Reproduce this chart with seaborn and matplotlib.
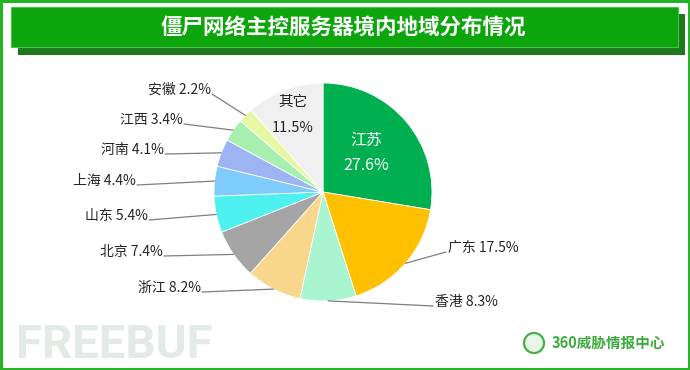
import numpy as np
import matplotlib
matplotlib.use('Agg')
import matplotlib.pyplot as plt
import seaborn as sns
from matplotlib.patches import Rectangle, Circle

# data (clockwise from 12 o'clock)
regions = ['江苏', '广东', '香港', '浙江', '北京', '山东', '上海', '河南', '江西', '安徽', '其它']
shares = [27.6, 17.5, 8.3, 8.2, 7.4, 5.4, 4.4, 4.1, 3.4, 2.2, 11.5]
colors = ['#00B050', '#FFC000', '#A8F5CF', '#F8D68C', '#A5A5A5', '#4DF2F0',
          '#7FCBFB', '#9DB4F3', '#A6EFAE', '#E6F8A2', '#F0F0F0']
title = '僵尸网络主控服务器境内地域分布情况'

sns.set_theme(style='white')
plt.rcParams['font.family'] = ['Noto Sans CJK SC', 'DejaVu Sans']

W, H = 690, 370
fig = plt.figure(figsize=(W / 100, H / 100), dpi=100)

# pie
cx, cy, r = 323, 192, 109
pie_ax = fig.add_axes([(cx - r) / W, (H - cy - r) / H, 2 * r / W, 2 * r / H])
wedges, _ = pie_ax.pie(shares, colors=colors, startangle=90, counterclock=False,
                       wedgeprops=dict(edgecolor='white', linewidth=0.6))
pie_ax.set_xlim(-1, 1)
pie_ax.set_ylim(-1, 1)
pie_ax.axis('off')

# overlay layer in pixel coords (origin top-left), drawn above the pie
bg = fig.add_axes([0, 0, 1, 1])
bg.set_xlim(0, W)
bg.set_ylim(H, 0)
bg.axis('off')
bg.set_zorder(3)
bg.patch.set_alpha(0)

bg.add_patch(Rectangle((1, 1), W - 2, H - 2, fill=False, ec='#22B422', lw=2.2))
bg.add_patch(Rectangle((18, 14), 667, 41, fc='#1C7A1C', ec='none'))
bg.add_patch(Rectangle((11, 7), 667, 40, fc='#0CA60C', ec='#4CC04C', lw=0.8))
bg.text(343, 27, title, color='white', fontsize=15.5, fontweight='bold',
        ha='center', va='center')

# watermark and logo
bg.text(16, 345, 'FREEBUF', color='#E4EAE6', fontsize=34, fontweight='bold',
        family='Roboto', ha='left', va='center')
bg.add_patch(Circle((534, 343), 10, fc='#E8F6E8', ec='#45B045', lw=1.6))
bg.text(552, 343, '360威胁情报中心', color='#3DAA3D', fontsize=10.5,
        fontweight='bold', ha='left', va='center')

# outer label anchors (layout only)
label_pos = {
    '广东': (448, 248, 'left'),
    '香港': (435, 302, 'left'),
    '浙江': (201, 288, 'right'),
    '北京': (163, 252, 'right'),
    '山东': (148, 216, 'right'),
    '上海': (136, 181, 'right'),
    '河南': (164, 150, 'right'),
    '江西': (183, 120, 'right'),
    '安徽': (211, 90, 'right'),
}
inner_pos = {'江苏': (366, 153, 'white', 11.5), '其它': (293, 115, '#262626', 10.5)}

for w, name, val in zip(wedges, regions, shares):
    mid = np.deg2rad((w.theta1 + w.theta2) / 2)
    if name in inner_pos:
        x, y, c, fs = inner_pos[name]
        bg.text(x, y - 13, name, color=c, fontsize=fs, ha='center', va='center')
        bg.text(x, y + 13, f'{val}%', color=c, fontsize=fs, ha='center', va='center')
        continue
    x, y, ha = label_pos[name]
    ex, ey = cx + r * np.cos(mid), cy - r * np.sin(mid)
    lx = x - 2 if ha == 'left' else x + 1
    bg.plot([ex, lx], [ey, y + 4], color='#7F7F7F', lw=0.9)
    bg.text(x, y, f'{name} {val}%', color='#262626', fontsize=10, ha=ha, va='center')

fig.savefig('out.png', dpi=100)
